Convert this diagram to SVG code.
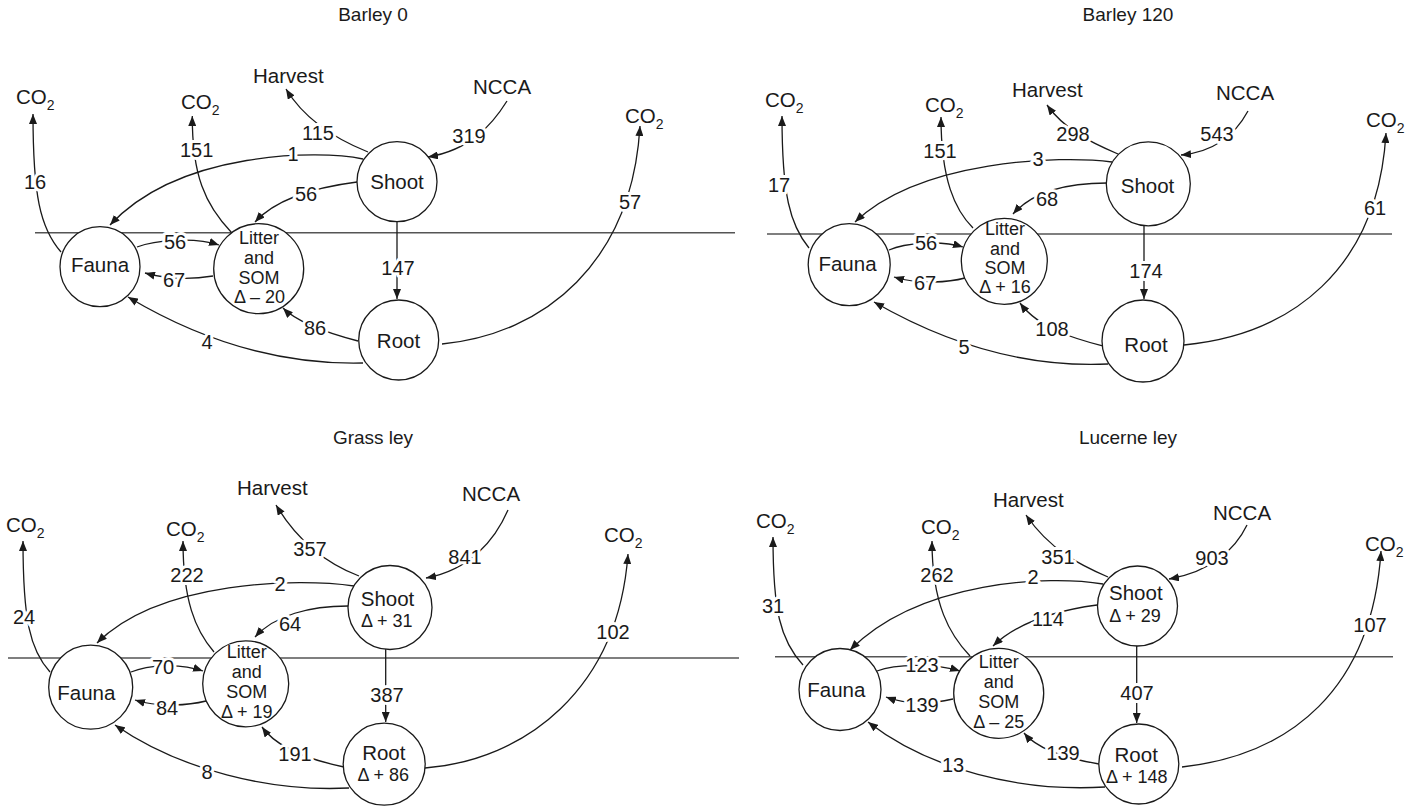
<svg xmlns="http://www.w3.org/2000/svg" width="1421" height="807" viewBox="0 0 1421 807">
<style>
text{font-family:"Liberation Sans",Arial,sans-serif;fill:#1a1a1a}
.ln{fill:none;stroke:#1a1a1a;stroke-width:1.3;marker-end:url(#ah)}
.soil{stroke:#555;stroke-width:1.6}
.nd{fill:#fff;stroke:#1a1a1a;stroke-width:1.3}
.t{font-size:20.5px}
.c{text-anchor:middle}
.s{font-size:18px;text-anchor:middle}
.sub{font-size:14px}
.ttl{font-size:19px;text-anchor:middle}
.lbl{font-size:20px;text-anchor:middle;stroke:#fff;stroke-width:6;paint-order:stroke;stroke-linejoin:round}
</style>
<defs>
<marker id="ah" viewBox="0 0 10 8" refX="10" refY="4" markerWidth="10" markerHeight="8" markerUnits="userSpaceOnUse" orient="auto">
<path d="M0,0 L10,4 L0,8 z" fill="#1a1a1a"/>
</marker>
</defs>

<g id="titles">
<text class="ttl" x="373" y="21">Barley 0</text>
<text class="ttl" x="1128" y="21">Barley 120</text>
<text class="ttl" x="373" y="444">Grass ley</text>
<text class="ttl" x="1128" y="444">Lucerne ley</text>
</g>

<g id="soil-lines">
<line class="soil" x1="35" y1="232.7" x2="735" y2="232.7"/>
<line class="soil" x1="767" y1="234" x2="1392" y2="234"/>
<line class="soil" x1="8" y1="658" x2="739" y2="658"/>
<line class="soil" x1="775" y1="656.7" x2="1393" y2="656.7"/>
</g>

<g id="sinks">
<text class="t" x="16" y="104">CO<tspan class="sub" dy="6">2</tspan></text>
<text class="t" x="181" y="109">CO<tspan class="sub" dy="6">2</tspan></text>
<text class="t" x="625" y="123">CO<tspan class="sub" dy="6">2</tspan></text>
<text class="t" x="253" y="83">Harvest</text>
<text class="t" x="473" y="94">NCCA</text>

<text class="t" x="765" y="107">CO<tspan class="sub" dy="6">2</tspan></text>
<text class="t" x="925" y="112">CO<tspan class="sub" dy="6">2</tspan></text>
<text class="t" x="1366" y="127">CO<tspan class="sub" dy="6">2</tspan></text>
<text class="t" x="1012" y="96.5">Harvest</text>
<text class="t" x="1216" y="100">NCCA</text>

<text class="t" x="6" y="531.5">CO<tspan class="sub" dy="6">2</tspan></text>
<text class="t" x="166" y="536">CO<tspan class="sub" dy="6">2</tspan></text>
<text class="t" x="604" y="541.5">CO<tspan class="sub" dy="6">2</tspan></text>
<text class="t" x="237" y="495">Harvest</text>
<text class="t" x="462" y="500.5">NCCA</text>

<text class="t" x="756" y="528.3">CO<tspan class="sub" dy="6">2</tspan></text>
<text class="t" x="921" y="534">CO<tspan class="sub" dy="6">2</tspan></text>
<text class="t" x="1365" y="550.5">CO<tspan class="sub" dy="6">2</tspan></text>
<text class="t" x="993" y="507.3">Harvest</text>
<text class="t" x="1213" y="520">NCCA</text>
</g>

<g id="connectors">
<!-- Barley 0 -->
<path class="ln" d="M61,252 C40,228 33,195 33,114"/>
<path class="ln" d="M231.7,232.7 C205,205 192,175 192.3,116"/>
<path class="ln" d="M368,152 C338,140 305,120 286,89"/>
<path class="ln" d="M507,101 C492,125 470,150 428,157"/>
<path class="ln" d="M363,159 C320,150 180,150 110,225"/>
<path class="ln" d="M357,182 C310,188 275,200 255,222"/>
<path class="ln" d="M397,222 L397,299"/>
<path class="ln" d="M137,247 C155,240 195,237 219,245"/>
<path class="ln" d="M213,276 C195,279 170,280 145,273"/>
<path class="ln" d="M358,341 C335,335 300,325 283,308"/>
<path class="ln" d="M363,363 C280,365 200,340 128,297"/>
<path class="ln" d="M442,344 C545,334 632,262 640,126"/>
<!-- Barley 120 -->
<path class="ln" d="M809,248 C790,225 782,195 782,116"/>
<path class="ln" d="M973,228 C955,210 941,180 941,117"/>
<path class="ln" d="M1118,154 C1090,142 1065,130 1047,105"/>
<path class="ln" d="M1248,111 C1235,135 1215,152 1181,155"/>
<path class="ln" d="M1112,162 C1060,155 920,160 855,222"/>
<path class="ln" d="M1107,183 C1060,183 1030,195 1013,214"/>
<path class="ln" d="M1144,226 L1144,299"/>
<path class="ln" d="M889,250 C905,243 940,240 963,247"/>
<path class="ln" d="M965,278 C950,282 920,285 894,277"/>
<path class="ln" d="M1103,346 C1080,340 1040,330 1020,303"/>
<path class="ln" d="M1108,364 C1020,368 940,340 874,302"/>
<path class="ln" d="M1184,345 C1290,335 1378,270 1386,133"/>
<!-- Grass ley -->
<path class="ln" d="M50,672 C30,650 23,620 23,541"/>
<path class="ln" d="M214,652 C195,630 183,600 183,541"/>
<path class="ln" d="M359,576 C330,565 300,545 276,505"/>
<path class="ln" d="M508,510 C495,540 470,570 426,578"/>
<path class="ln" d="M354,586 C300,578 160,580 97,643"/>
<path class="ln" d="M348,606 C310,606 275,615 255,637"/>
<path class="ln" d="M385.7,649 L385.7,722"/>
<path class="ln" d="M131,672 C148,665 180,663 203,671"/>
<path class="ln" d="M206,701 C190,705 160,708 135,700"/>
<path class="ln" d="M344,767 C320,762 280,752 262,727"/>
<path class="ln" d="M349,788 C270,792 180,770 115,725"/>
<path class="ln" d="M425,768 C525,760 618,690 628,554"/>
<!-- Lucerne ley -->
<path class="ln" d="M803,665 C780,640 773,610 773,537"/>
<path class="ln" d="M970,656 C950,635 932,605 932,541"/>
<path class="ln" d="M1108,577 C1080,565 1050,550 1026,515"/>
<path class="ln" d="M1247,525 C1235,550 1210,572 1169,579"/>
<path class="ln" d="M1103,584 C1050,575 920,580 850,650"/>
<path class="ln" d="M1097,605 C1060,610 1020,620 993,646"/>
<path class="ln" d="M1136.7,646 L1136.7,723"/>
<path class="ln" d="M877,671 C895,664 935,663 960,671"/>
<path class="ln" d="M953,699 C935,703 910,706 886,697"/>
<path class="ln" d="M1099,764 C1075,760 1040,752 1024,733"/>
<path class="ln" d="M1105,787 C1020,792 930,770 868,722"/>
<path class="ln" d="M1182,767 C1290,755 1372,690 1381,551"/>
</g>

<g id="b0-fauna"><circle class="nd" cx="100" cy="266.7" r="40"/><text class="t c" x="100" y="272">Fauna</text></g>
<g id="b0-litter"><circle class="nd" cx="258.7" cy="268.7" r="45"/><text class="s" x="259" y="244">Litter</text><text class="s" x="259" y="264">and</text><text class="s" x="259" y="284">SOM</text><text class="s" x="259.5" y="303">Δ – 20</text></g>
<g id="b0-shoot"><circle class="nd" cx="397" cy="181.7" r="40"/><text class="t c" x="397" y="189.3">Shoot</text></g>
<g id="b0-root"><circle class="nd" cx="398.7" cy="340" r="40"/><text class="t c" x="398.5" y="348">Root</text></g>

<g id="b120-fauna"><circle class="nd" cx="849.2" cy="264.7" r="41"/><text class="t c" x="847.5" y="270.7">Fauna</text></g>
<g id="b120-litter"><circle class="nd" cx="1004.3" cy="261.3" r="43"/><text class="s" x="1005" y="235">Litter</text><text class="s" x="1005" y="255">and</text><text class="s" x="1005" y="274">SOM</text><text class="s" x="1005" y="293.3">Δ + 16</text></g>
<g id="b120-shoot"><circle class="nd" cx="1148.3" cy="183.8" r="42"/><text class="t c" x="1147.5" y="193.3">Shoot</text></g>
<g id="b120-root"><circle class="nd" cx="1143" cy="341" r="41"/><text class="t c" x="1146" y="351.7">Root</text></g>

<g id="gl-fauna"><circle class="nd" cx="90.7" cy="687.2" r="42"/><text class="t c" x="86.3" y="700">Fauna</text></g>
<g id="gl-litter"><circle class="nd" cx="245.7" cy="683.8" r="43"/><text class="s" x="246.7" y="658.3">Litter</text><text class="s" x="246.7" y="678.3">and</text><text class="s" x="246.7" y="697.7">SOM</text><text class="s" x="246.7" y="718.3">Δ + 19</text></g>
<g id="gl-shoot"><circle class="nd" cx="390" cy="607.5" r="42"/><text class="t c" x="387.5" y="606">Shoot</text><text class="s" x="386.7" y="626.7">Δ + 31</text></g>
<g id="gl-root"><circle class="nd" cx="384.2" cy="764.2" r="41"/><text class="t c" x="383.8" y="760">Root</text><text class="s" x="383.3" y="780.7">Δ + 86</text></g>

<g id="ll-fauna"><circle class="nd" cx="840" cy="689.5" r="41"/><text class="t c" x="836.3" y="696.7">Fauna</text></g>
<g id="ll-litter"><circle class="nd" cx="998.7" cy="693.3" r="45"/><text class="s" x="998.7" y="668.3">Litter</text><text class="s" x="998.7" y="688.3">and</text><text class="s" x="998.7" y="708.3">SOM</text><text class="s" x="998.7" y="728.3">Δ – 25</text></g>
<g id="ll-shoot"><circle class="nd" cx="1137.5" cy="606" r="40"/><text class="t c" x="1135.8" y="600">Shoot</text><text class="s" x="1135" y="621.7">Δ + 29</text></g>
<g id="ll-root"><circle class="nd" cx="1138.8" cy="764" r="40"/><text class="t c" x="1136.2" y="761.7">Root</text><text class="s" x="1136.7" y="782.7">Δ + 148</text></g>

<g id="connector-labels">
<text class="lbl" x="35" y="189">16</text>
<text class="lbl" x="196.7" y="157">151</text>
<text class="lbl" x="318" y="140">115</text>
<text class="lbl" x="469" y="143">319</text>
<text class="lbl" x="293" y="161">1</text>
<text class="lbl" x="306" y="201">56</text>
<text class="lbl" x="398" y="275">147</text>
<text class="lbl" x="175" y="249">56</text>
<text class="lbl" x="174" y="287">67</text>
<text class="lbl" x="315" y="335">86</text>
<text class="lbl" x="207" y="349">4</text>
<text class="lbl" x="630" y="209">57</text>

<text class="lbl" x="779" y="192">17</text>
<text class="lbl" x="940" y="158">151</text>
<text class="lbl" x="1073" y="141">298</text>
<text class="lbl" x="1217" y="141">543</text>
<text class="lbl" x="1038" y="166">3</text>
<text class="lbl" x="1047" y="206">68</text>
<text class="lbl" x="1146" y="278">174</text>
<text class="lbl" x="926" y="250">56</text>
<text class="lbl" x="925" y="290">67</text>
<text class="lbl" x="1052" y="336">108</text>
<text class="lbl" x="964" y="354">5</text>
<text class="lbl" x="1375" y="215">61</text>

<text class="lbl" x="24" y="624">24</text>
<text class="lbl" x="187" y="582">222</text>
<text class="lbl" x="310" y="556">357</text>
<text class="lbl" x="465" y="564">841</text>
<text class="lbl" x="280" y="591">2</text>
<text class="lbl" x="290" y="631">64</text>
<text class="lbl" x="387" y="702">387</text>
<text class="lbl" x="163" y="674">70</text>
<text class="lbl" x="167" y="715">84</text>
<text class="lbl" x="295" y="761">191</text>
<text class="lbl" x="207" y="779">8</text>
<text class="lbl" x="613" y="639">102</text>

<text class="lbl" x="773" y="613">31</text>
<text class="lbl" x="937" y="582">262</text>
<text class="lbl" x="1058" y="564">351</text>
<text class="lbl" x="1212" y="565">903</text>
<text class="lbl" x="1033" y="584">2</text>
<text class="lbl" x="1048" y="626">114</text>
<text class="lbl" x="1137" y="700">407</text>
<text class="lbl" x="922" y="672">123</text>
<text class="lbl" x="922" y="712">139</text>
<text class="lbl" x="1063" y="760">139</text>
<text class="lbl" x="953" y="772">13</text>
<text class="lbl" x="1370" y="632">107</text>
</g>
</svg>
